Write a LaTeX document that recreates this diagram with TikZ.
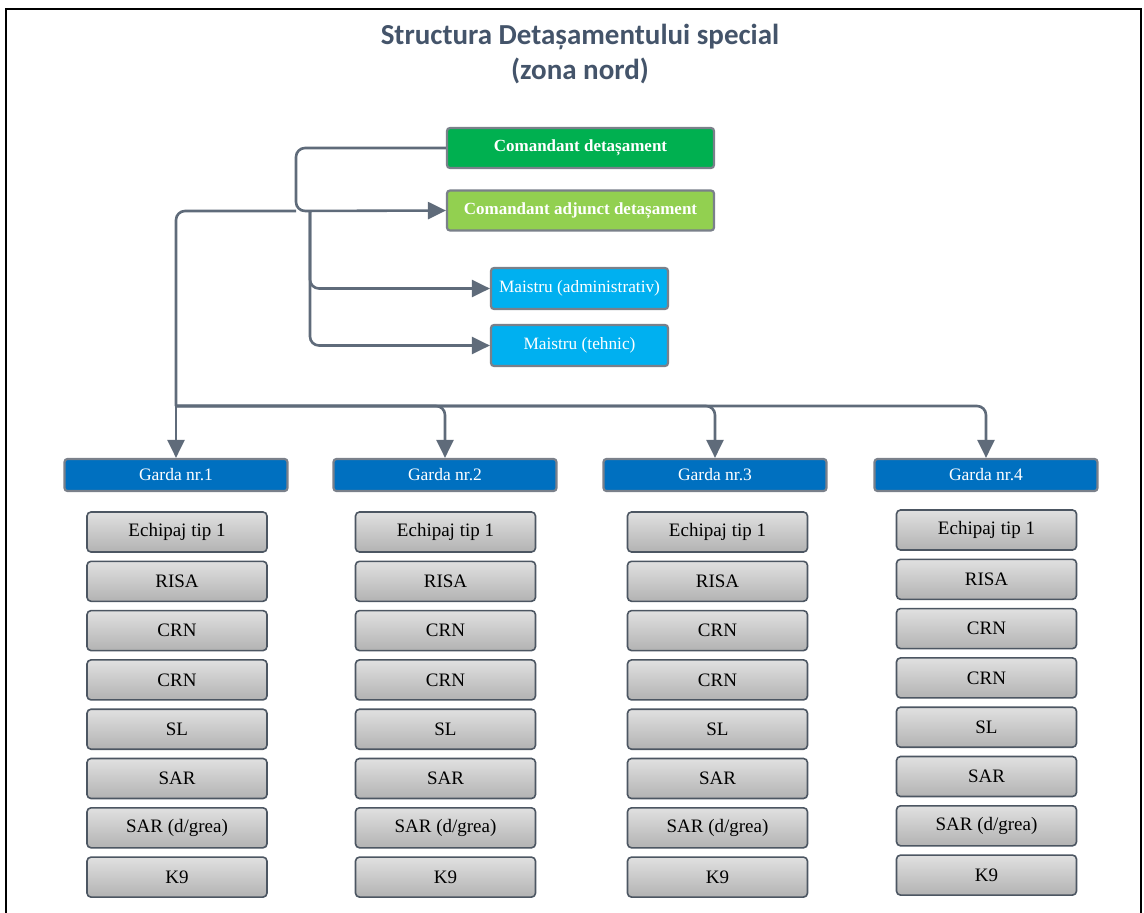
\documentclass[tikz,border=0pt]{standalone}
\usepackage{fontspec}
\setmainfont{Liberation Serif}
\newfontfamily\titlefont{Carlito}
\usetikzlibrary{arrows.meta,calc}

\definecolor{linkgray}{HTML}{5F6B7A}
\definecolor{titleblue}{HTML}{44546A}
\definecolor{cmdgreen}{HTML}{00B050}
\definecolor{adjgreen}{HTML}{92D050}
\definecolor{mstblue}{HTML}{00B0F0}
\definecolor{gardablue}{HTML}{0070C0}
\definecolor{boxedge}{HTML}{7A808A}

\begin{document}
\begin{tikzpicture}[x=1pt, y=-1pt,
    link/.style = {draw=linkgray, line width=2.6pt, rounded corners=9pt, -{Triangle[length=18pt,width=17pt]}},
    line/.style = {draw=linkgray, line width=2.6pt, rounded corners=9pt},
    box/.style = {draw=boxedge, line width=2.2pt, rounded corners=3pt, inner sep=0pt, text=white},
    chief/.style = {box, minimum width=267pt, minimum height=40pt, font=\rmfamily\fontsize{17}{20}\selectfont\bfseries},
    mst/.style = {box, fill=mstblue, minimum width=177pt, minimum height=41pt, font=\rmfamily\fontsize{17.3}{20}\selectfont},
    garda/.style = {box, fill=gardablue, minimum width=223pt, minimum height=32pt, font=\rmfamily\fontsize{17.5}{20}\selectfont},
    item/.style = {draw=linkgray!80!black, line width=1.6pt, rounded corners=4pt, top color=black!12, bottom color=black!30,
                   minimum width=180pt, minimum height=40pt, inner sep=0pt, font=\rmfamily\fontsize{19}{22}\selectfont}]

    \useasboundingbox (0,0) rectangle (1144,913);
    % frame
    \draw[line width=2pt] (6,913) -- (6,9) -- (1141,9) -- (1141,913);

    % title
    \node[text=titleblue, align=center, font=\titlefont\bfseries\fontsize{29}{35}\selectfont] (title) at (580,54)
        {Structura Detașamentului special\\(zona nord)};

    % conducere
    \node[chief, fill=cmdgreen] (cmd) at (580.5,148) {Comandant detașament};
    \node[chief, fill=adjgreen] (adj) at (580.5,210.5) {Comandant adjunct detașament};
    \node[mst] (mst1) at (579.5,288.5) {Maistru (administrativ)};
    \node[mst] (mst2) at (579.5,345.5) {Maistru (tehnic)};

    % garzi
    \foreach \g/\x in {1/176,2/445,3/715,4/986}
        \node[garda] (g\g) at (\x,475) {Garda nr.\g};

    % echipaje
    \foreach \g/\x/\dy in {1/177/0,2/445.5/0,3/717.5/0,4/986.5/-2}
        \foreach \t [count=\r] in {Echipaj tip 1, RISA, CRN, CRN, SL, SAR, SAR (d/grea), K9}
            \node[item] (e\g-\r) at (\x,{532+(\r-1)*49.3+\dy}) {\t};

    % legaturi
    \coordinate (j1) at (296,211);
    \coordinate (j2) at (310,211);
    \coordinate (bus) at (176,406);
    \draw[link] (cmd.west) -| (j1) -- (adj.west);
    \draw[line] (j1) -| (bus);
    \draw[link] (bus) -- (g1.north);
    \draw[link] (j2) |- (mst1.west);
    \draw[link] (j2) |- (mst2.west);
    \foreach \g in {2,3,4}
        \draw[link] (bus) -| (g\g.north);

\end{tikzpicture}
\end{document}
